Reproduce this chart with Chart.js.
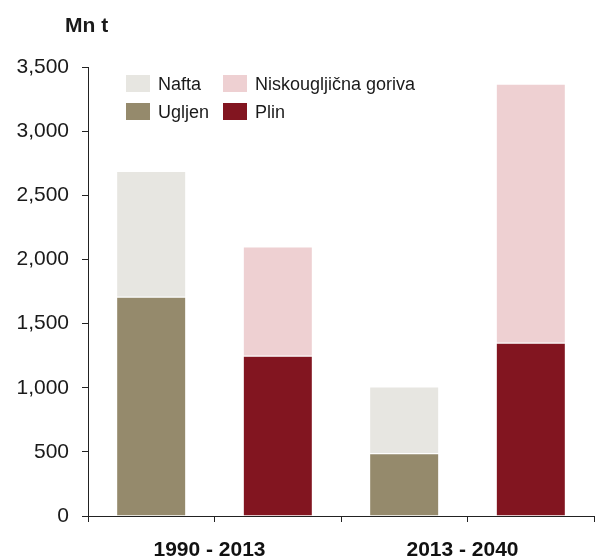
<!DOCTYPE html>
<html>
<head>
<meta charset="utf-8">
<script src="https://cdn.jsdelivr.net/npm/chart.js@4"></script>
<style>
  html, body { margin: 0; padding: 0; background: #fff; }
  #wrap { position: relative; width: 595px; height: 558px; font-family: "Liberation Sans", Arial, sans-serif; color: #1a1a1a; }
  #chart { position: absolute; left: 0; top: 0; }
  .title { position: absolute; left: 65px; top: 13px; font-weight: bold; font-size: 21px; }
  .leg { position: absolute; font-size: 18px; line-height: 18px; white-space: nowrap; }
  .sw { position: absolute; width: 24px; height: 17px; }
</style>
</head>
<body>
<div id="wrap">
  <canvas id="chart" width="595" height="558"></canvas>
  <div class="title">Mn t</div>
  <div id="legend"></div>
</div>
<script>
// ---- data ----
const periods = ['1990 - 2013', '2013 - 2040'];
const ugljen = [1710, 490];          // Coal
const nafta = [980, 520];            // Oil
const plin = [1250, 1350];           // Gas
const niskougljicna = [850, 2020];   // Low-carbon fuels
const yTicks = [0, 500, 1000, 1500, 2000, 2500, 3000, 3500];

const colors = {
  nafta: '#e7e6e1',
  ugljen: '#958a6c',
  niskougljicna: '#eed0d2',
  plin: '#821520'
};

// four bar slots: [fossil-1, gas-1, fossil-2, gas-2]
const slots = ['a', 'b', 'c', 'd'];
const fossilSlot = arr => [arr[0], null, arr[1], null];
const gasSlot = arr => [null, arr[0], null, arr[1]];

const common = { barPercentage: 0.54, categoryPercentage: 1.0, borderColor: '#ffffff', borderWidth: { top: 1 }, borderSkipped: 'bottom' };

new Chart(document.getElementById('chart'), {
  type: 'bar',
  data: {
    labels: slots,
    datasets: [
      Object.assign({ label: 'Ugljen', data: fossilSlot(ugljen), backgroundColor: colors.ugljen }, common),
      Object.assign({ label: 'Nafta', data: fossilSlot(nafta), backgroundColor: colors.nafta }, common),
      Object.assign({ label: 'Plin', data: gasSlot(plin), backgroundColor: colors.plin }, common),
      Object.assign({ label: 'Niskougljična goriva', data: gasSlot(niskougljicna), backgroundColor: colors.niskougljicna }, common)
    ]
  },
  options: {
    responsive: false,
    devicePixelRatio: 1,
    animation: false,
    layout: { padding: { top: 67, right: 1, left: 0, bottom: 0 } },
    plugins: { legend: { display: false }, tooltip: { enabled: false }, title: { display: false } },
    scales: {
      x: {
        stacked: true,
        offset: true,
        grid: { display: true, drawOnChartArea: false, drawTicks: true, tickLength: 6, color: '#222', offset: true },
        border: { display: true, color: '#222', width: 1 },
        ticks: { display: false }
      },
      x2: {
        type: 'category',
        labels: periods,
        position: 'bottom',
        offset: true,
        grid: { display: false, drawTicks: false },
        border: { display: false },
        ticks: { font: { family: 'Liberation Sans', size: 21, weight: 'bold' }, color: '#111', padding: 16, maxRotation: 0, labelOffset: -5 },
        afterFit: s => { s.height = 36; }
      },
      y: {
        stacked: true,
        min: 0,
        max: 3500,
        afterBuildTicks: s => { s.ticks = yTicks.map(v => ({ value: v })); },
        grid: { display: true, drawOnChartArea: false, drawTicks: true, tickLength: 6, color: '#222' },
        border: { display: true, color: '#222', width: 1 },
        ticks: {
          font: { family: 'Liberation Sans', size: 21 },
          color: '#1a1a1a',
          padding: 13,
          callback: v => v.toLocaleString('en-US')
        },
        afterFit: s => { s.width = 88; }
      }
    }
  }
});

// ---- legend (HTML, two columns) ----
const legendItems = [
  { label: 'Nafta', color: colors.nafta, col: 0, row: 0 },
  { label: 'Niskougljična goriva', color: colors.niskougljicna, col: 1, row: 0 },
  { label: 'Ugljen', color: colors.ugljen, col: 0, row: 1 },
  { label: 'Plin', color: colors.plin, col: 1, row: 1 }
];
const colX = [126, 223];
const rowY = [75, 103];
const leg = document.getElementById('legend');
legendItems.forEach(it => {
  const sw = document.createElement('div');
  sw.className = 'sw';
  sw.style.left = colX[it.col] + 'px';
  sw.style.top = rowY[it.row] + 'px';
  sw.style.background = it.color;
  leg.appendChild(sw);
  const t = document.createElement('div');
  t.className = 'leg';
  t.textContent = it.label;
  t.style.left = (colX[it.col] + 32) + 'px';
  t.style.top = rowY[it.row] + 'px';
  leg.appendChild(t);
});
</script>
</body>
</html>
